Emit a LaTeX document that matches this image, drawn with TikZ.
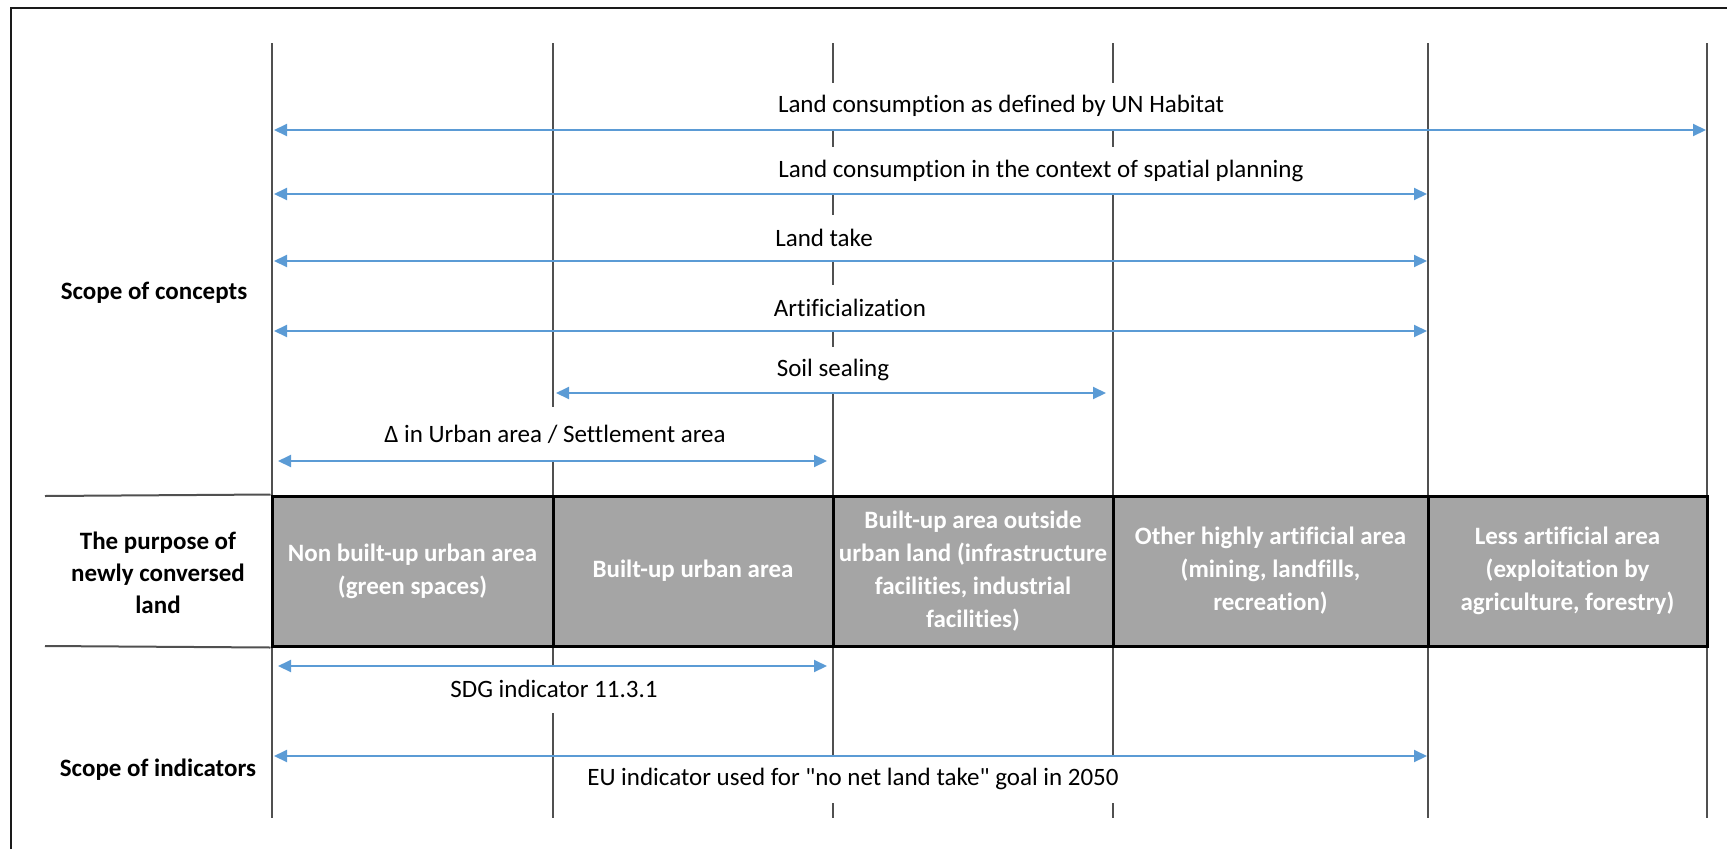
\documentclass[tikz,border=0pt]{standalone}
\usepackage{fontspec}
\setmainfont{Carlito}[Ligatures=NoCommon]
\newfontfamily\plainq{Carlito}
\usetikzlibrary{arrows.meta}
\definecolor{arrowblue}{HTML}{5B9BD5}
\definecolor{vlinec}{HTML}{505050}
\definecolor{cellgray}{HTML}{A5A5A5}
\definecolor{framec}{HTML}{1A1A1A}
\begin{document}
\begin{tikzpicture}[x=1pt,y=-1pt,
  every node/.style={font=\fontsize{25}{32}\selectfont, inner sep=0pt},
  vline/.style={draw=vlinec, line width=2.2pt},
  hline/.style={draw=vlinec, line width=2pt},
  frameline/.style={draw=framec, line width=2.5pt},
  darrow/.style={draw=arrowblue, line width=2pt, {Triangle[length=13pt,width=12pt]}-{Triangle[length=13pt,width=12pt]}},
  lab/.style={fill=white, minimum height=47pt, inner xsep=5pt},
  cell/.style={draw=black, line width=3pt, fill=cellgray, text=white, font=\fontsize{25}{33}\selectfont\bfseries, align=center, minimum height=150pt, inner sep=0pt},
  side/.style={font=\fontsize{25}{32}\selectfont\bfseries, align=center}
]
\useasboundingbox (0,0) rectangle (1727,849);

% frame
\coordinate (fbl) at (11,849);
\coordinate (ftl) at (11,8);
\coordinate (ftr) at (1727,8);
\draw[frameline] (fbl) -- (ftl) -- (ftr);

% vertical lines
\foreach \n/\x in {1/272,2/553,3/833,4/1113,5/1428,6/1707}{
  \coordinate (v\n t) at (\x,43);
  \coordinate (v\n b) at (\x,818);
  \draw[vline] (v\n t) -- (v\n b);
}

% cells
\node[cell, minimum width=281pt] (c1) at (412.5,571) {Non built-up urban area\\(green spaces)};
\node[cell, minimum width=280pt] (c2) at (693,571) {Built-up urban area};
\node[cell, minimum width=280pt] (c3) at (973,571) {Built-up area outside\\urban land (infrastructure\\facilities, industrial\\facilities)};
\node[cell, minimum width=315pt] (c4) at (1270.5,571) {Other highly artificial area\\(mining, landfills,\\recreation)};
\node[cell, minimum width=279pt] (c5) at (1567.5,571) {Less artificial area\\(exploitation by\\agriculture, forestry)};

\coordinate (hl1) at (45,496);
\coordinate (hl2) at (45,646);
\draw[hline] (hl1) -- (c1.north west);
\draw[hline] (hl2) -- (c1.south west);

% side labels
\node[side] (sconc) at (154,293) {Scope of concepts};
\node[side] (spurp) at (158,573) {The purpose of\\newly conversed\\land};
\node[side] (sind) at (158,770) {Scope of indicators};

% arrow labels
\node[lab] (l1) at (1001,106) {Land consumption as defined by UN Habitat};
\node[lab] (l2) at (1041,170.5) {Land consumption in the context of spatial planning};
\node[lab] (l3) at (824,238) {Land take};
\node[lab] (l4) at (850,308) {Artificialization};
\node[lab] (l5) at (833,370) {Soil sealing};
\node[lab, minimum height=54pt] (l6) at (555,434) {Δ in Urban area / Settlement area};
\node[lab] (l7) at (554,689) {SDG indicator 11.3.1};
\node[lab] (l8) at (853,779) {EU indicator used for {\plainq"}no net land take{\plainq"} goal in 2050};

% arrows
\coordinate (a1l) at (274,130);  \coordinate (a1r) at (1706,130);
\coordinate (a2l) at (274,194);  \coordinate (a2r) at (1427,194);
\coordinate (a3l) at (274,261);  \coordinate (a3r) at (1427,261);
\coordinate (a4l) at (274,331);  \coordinate (a4r) at (1427,331);
\coordinate (a5l) at (556,393);  \coordinate (a5r) at (1106,393);
\coordinate (a6l) at (278,461);  \coordinate (a6r) at (827,461);
\coordinate (a7l) at (278,666);  \coordinate (a7r) at (827,666);
\coordinate (a8l) at (274,756);  \coordinate (a8r) at (1427,756);
\foreach \i in {1,...,8}{
  \draw[darrow] (a\i l) -- (a\i r);
}
\end{tikzpicture}
\end{document}
